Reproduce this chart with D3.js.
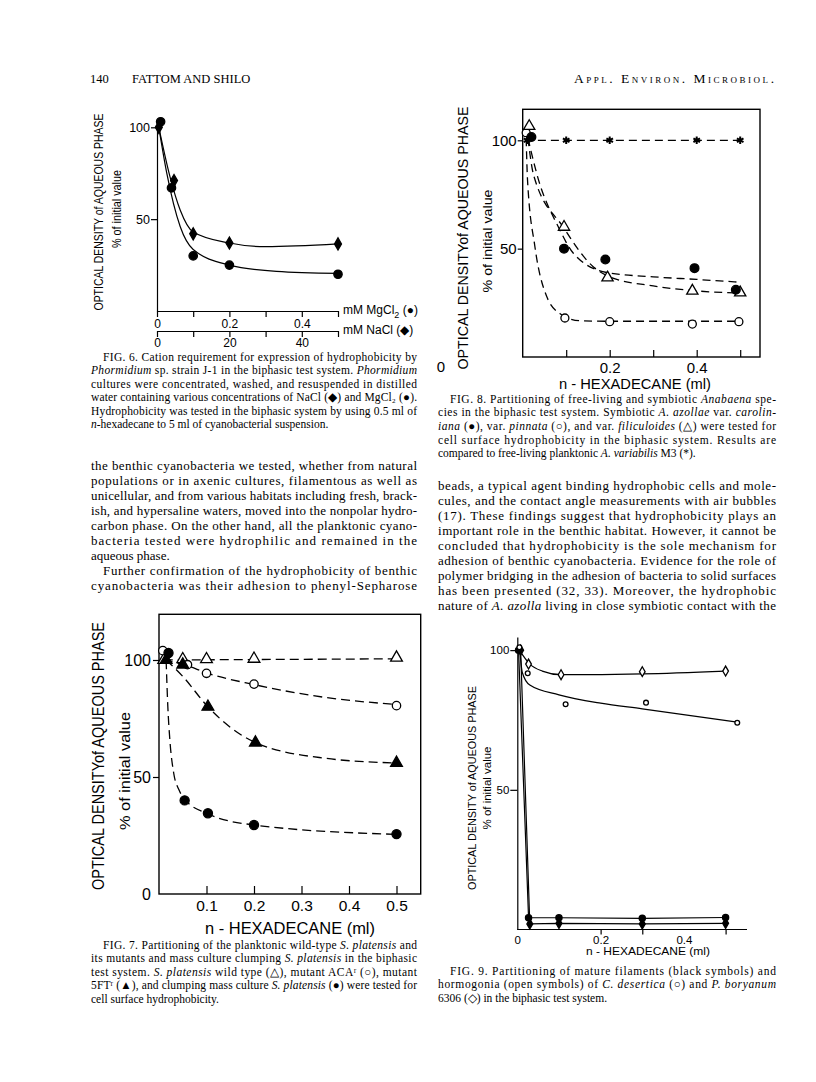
<!DOCTYPE html>
<html><head><meta charset="utf-8">
<script src="https://cdn.jsdelivr.net/npm/d3@7"></script>
<style>html,body{margin:0;padding:0;background:#fff}</style>
</head><body>
<svg id="page" width="816" height="1082"></svg>
<script>
// ================= DATA =================
// Fig. 6  (x of circles in mM MgCl2, x of diamonds in mM NaCl)
const fig6MgX = [0.01, 0.04, 0.1, 0.2, 0.5];
const fig6MgY = [103, 67, 30, 25, 20];
const fig6MgFitX = [0.005, 0.027, 0.064, 0.1, 0.2, 0.33, 0.5];
const fig6MgFitY = [100, 75, 46, 33.5, 25, 21.6, 20.5];
const fig6NaX = [0.5, 4.7, 10, 20, 50];
const fig6NaY = [100, 71, 42, 37, 36.5];
const fig6NaFitX = [0.5, 3.6, 6.4, 10, 20, 30, 50];
const fig6NaFitY = [100, 73, 55, 43, 37, 35, 36.5];
const fig6MgTicks = [0, 0.1, 0.2, 0.3, 0.4, 0.5];
const fig6MgLabels = [0, 0.2, 0.4];
const fig6NaTicks = [0, 10, 20, 30, 40, 50];
const fig6NaLabels = [0, 20, 40];
const fig6YTicks = [50, 100];

// Fig. 8
const fig8StarX = [0.01, 0.1, 0.2, 0.4, 0.5];
const fig8StarY = [100, 100, 100, 100, 100];
const fig8FilledX = [0.02, 0.095, 0.19, 0.395, 0.49];
const fig8FilledY = [101.5, 50, 45, 41, 31];
const fig8OpenX = [0.008, 0.097, 0.2, 0.39, 0.497];
const fig8OpenY = [103.5, 18, 16.3, 15.2, 16.3];
const fig8TriX = [0.015, 0.095, 0.195, 0.39, 0.5];
const fig8TriY = [106.5, 60, 36.6, 30.5, 29.7];
const fig8StarFitX = [0.005, 0.5];
const fig8StarFitY = [100, 100];
const fig8FilledFitX = [0.012, 0.036, 0.082, 0.116, 0.193, 0.3, 0.4, 0.5];
const fig8FilledFitY = [101, 82, 60, 48, 39, 37, 35.8, 34.5];
const fig8TriFitX = [0.012, 0.025, 0.093, 0.162, 0.2, 0.3, 0.4, 0.5];
const fig8TriFitY = [101, 84, 60, 41.7, 37, 32.8, 30.5, 29.5];
const fig8OpenFitX = [0.008, 0.011, 0.028, 0.055, 0.086, 0.13, 0.2, 0.5];
const fig8OpenFitY = [101, 82, 51, 28, 20, 16.8, 16.5, 16.5];
const fig8XTicks = [0.1, 0.2, 0.3, 0.4, 0.5];
const fig8XLabels = [0.2, 0.4];
const fig8YTicks = [50, 100];

// Fig. 7
const fig7WtX = [0.01, 0.05, 0.1, 0.2, 0.5];
const fig7WtY = [100, 100.3, 100.3, 100.5, 101];
const fig7AcaX = [0.008, 0.06, 0.1, 0.2, 0.5];
const fig7AcaY = [104, 98, 94.3, 89.7, 80.5];
const fig7FtX = [0.015, 0.05, 0.103, 0.203, 0.5];
const fig7FtY = [100, 98, 80, 64.7, 56];
const fig7ClumpX = [0.02, 0.054, 0.103, 0.2, 0.5];
const fig7ClumpY = [103, 40, 34.5, 29.5, 25.6];
const fig7WtFitX = [0.01, 0.5];
const fig7WtFitY = [100, 100.5];
const fig7AcaFitX = [0.01, 0.06, 0.1, 0.2, 0.35, 0.5];
const fig7AcaFitY = [100, 97.5, 94.5, 89.5, 84, 81];
const fig7FtFitX = [0.015, 0.05, 0.103, 0.2, 0.35, 0.5];
const fig7FtFitY = [100, 93, 80, 65, 58, 56];
const fig7ClumpFitX = [0.015, 0.0186, 0.0228, 0.031, 0.042, 0.054, 0.1, 0.2, 0.5];
const fig7ClumpFitY = [100, 80, 66, 51.6, 44.5, 40.5, 34.5, 29.5, 25.5];
const fig7XTicks = [0.1, 0.2, 0.3, 0.4, 0.5];
const fig7YTicks = [0, 50, 100];

// Fig. 9
const fig9FilCircX = [0.003, 0.027, 0.1, 0.3, 0.5];
const fig9FilCircY = [100, 4.2, 4.2, 4.0, 4.3];
const fig9FilDiaX = [0.008, 0.03, 0.1, 0.3, 0.5];
const fig9FilDiaY = [100, 2.0, 2.2, 2.0, 2.2];
const fig9HorDiaX = [0.027, 0.105, 0.3, 0.5];
const fig9HorDiaY = [95, 91.2, 92.3, 92.5];
const fig9HorCircX = [0.005, 0.025, 0.116, 0.309, 0.528];
const fig9HorCircY = [101, 91.7, 80.6, 81.2, 74];
const fig9HorDiaFitX = [0.005, 0.03, 0.06, 0.105, 0.3, 0.5];
const fig9HorDiaFitY = [100, 95, 92.5, 91.2, 91.5, 92.5];
const fig9HorCircFitX = [0.006, 0.012, 0.03, 0.1, 0.2, 0.3, 0.528];
const fig9HorCircFitY = [100, 92, 87.5, 84, 81, 79, 74.2];
const fig9XTicks = [0.2, 0.3, 0.5];
const fig9XLabels = [0, 0.2, 0.4];
const fig9YTicks = [50, 100];

// Text
const header = ["140", "FATTOM AND SHILO", "Appl. Environ. Microbiol."];
const cap6 = [
 "FIG. 6. Cation requirement for expression of hydrophobicity by",
 "_Phormidium_ sp. strain J-1 in the biphasic test system. _Phormidium_",
 "cultures were concentrated, washed, and resuspended in distilled",
 "water containing various concentrations of NaCl (◆) and MgCl₂ (●).",
 "Hydrophobicity was tested in the biphasic system by using 0.5 ml of",
 "_n_-hexadecane to 5 ml of cyanobacterial suspension."];
const paraLeft = [
 "the benthic cyanobacteria we tested, whether from natural",
 "populations or in axenic cultures, filamentous as well as",
 "unicellular, and from various habitats including fresh, brack-",
 "ish, and hypersaline waters, moved into the nonpolar hydro-",
 "carbon phase. On the other hand, all the planktonic cyano-",
 "bacteria tested were hydrophilic and remained in the",
 "aqueous phase.",
 "Further confirmation of the hydrophobicity of benthic",
 "cyanobacteria was their adhesion to phenyl-Sepharose"];
const cap8 = [
 "FIG. 8. Partitioning of free-living and symbiotic _Anabaena_ spe-",
 "cies in the biphasic test system. Symbiotic _A. azollae_ var. _carolin-_",
 "_iana_ (●), var. _pinnata_ (○), and var. _filiculoides_ (△) were tested for",
 "cell surface hydrophobicity in the biphasic system. Results are",
 "compared to free-living planktonic _A. variabilis_ M3 (*)."];
const paraRight = [
 "beads, a typical agent binding hydrophobic cells and mole-",
 "cules, and the contact angle measurements with air bubbles",
 "(17). These findings suggest that hydrophobicity plays an",
 "important role in the benthic habitat. However, it cannot be",
 "concluded that hydrophobicity is the sole mechanism for",
 "adhesion of benthic cyanobacteria. Evidence for the role of",
 "polymer bridging in the adhesion of bacteria to solid surfaces",
 "has been presented (32, 33). Moreover, the hydrophobic",
 "nature of _A. azolla_ living in close symbiotic contact with the"];
const cap7 = [
 "FIG. 7. Partitioning of the planktonic wild-type _S. platensis_ and",
 "its mutants and mass culture clumping _S. platensis_ in the biphasic",
 "test system. _S. platensis_ wild type (△), mutant ACAʳ (○), mutant",
 "5FTʳ (▲), and clumping mass culture _S. platensis_ (●) were tested for",
 "cell surface hydrophobicity."];
const cap9 = [
 "FIG. 9. Partitioning of mature filaments (black symbols) and",
 "hormogonia (open symbols) of _C. desertica_ (○) and _P. boryanum_",
 "6306 (◇) in the biphasic test system."];

// ================= DRAWING =================
const serif = "'Liberation Serif','Times New Roman',serif";
const sans = "'Liberation Sans',Arial,sans-serif";
const svg = d3.select('#page');
svg.append('rect').attr('width', 816).attr('height', 1082).attr('fill', '#fff');

function zip(xs, ys) { return xs.map((x, i) => [x, ys[i]]); }

function curve(g, xs, ys, sx, sy, dash, w) {
  g.append('path')
    .attr('d', d3.line().x(d => sx(d[0])).y(d => sy(d[1])).curve(d3.curveMonotoneX)(zip(xs, ys)))
    .attr('fill', 'none').attr('stroke', '#000').attr('stroke-width', w || 1.3)
    .attr('stroke-dasharray', dash ? dash : null);
}
function poly(g, xs, ys, sx, sy, w) {
  g.append('path')
    .attr('d', d3.line().x(d => sx(d[0])).y(d => sy(d[1]))(zip(xs, ys)))
    .attr('fill', 'none').attr('stroke', '#000').attr('stroke-width', w || 1.2);
}
const symTypes = {circle: d3.symbolCircle, triangle: d3.symbolTriangle, diamond: d3.symbolDiamond, star: d3.symbolAsterisk};
function marks(g, xs, ys, sx, sy, type, filled, size) {
  g.selectAll(null).data(zip(xs, ys)).enter().append('path')
    .attr('transform', d => `translate(${sx(d[0])},${sy(d[1])})`)
    .attr('d', d3.symbol().type(symTypes[type]).size(size))
    .attr('fill', type === 'star' ? 'none' : (filled ? '#000' : '#fff'))
    .attr('stroke', '#000').attr('stroke-width', type === 'star' ? 2 : 1.3);
}
function vlabel(text, cx, cy, size, len) {
  svg.append('text').attr('transform', `translate(${cx},${cy}) rotate(-90)`)
    .attr('text-anchor', 'middle').attr('dy', '0.35em')
    .attr('font-family', sans).attr('font-size', size)
    .attr('textLength', len).attr('lengthAdjust', 'spacingAndGlyphs').text(text);
}
function hlabel(text, cx, cy, size, len) {
  const t = svg.append('text').attr('x', cx).attr('y', cy)
    .attr('text-anchor', 'middle').attr('dy', '0.35em')
    .attr('font-family', sans).attr('font-size', size).text(text);
  if (len) t.attr('textLength', len).attr('lengthAdjust', 'spacingAndGlyphs');
  return t;
}
function styleAxis(g, size) {
  g.attr('font-family', sans).attr('font-size', size);
  g.selectAll('path,line').attr('stroke', '#000').attr('stroke-width', 1.2);
  g.selectAll('text').attr('fill', '#000');
}
const fmt = d => d === 0 ? '0' : d3.format('.1f')(d);

// ---------- Fig 6 ----------
{
  const g = svg.append('g');
  const x = d3.scaleLinear().domain([0, 0.5]).range([157, 338]);
  const xNa = d3.scaleLinear().domain([0, 50]).range([157, 338]);
  const y = d3.scaleLinear().domain([0, 100]).range([311, 127.3]);
  const ay = g.append('g').attr('transform', 'translate(157,0)')
    .call(d3.axisLeft(y).tickValues(fig6YTicks).tickSize(6).tickSizeOuter(0).tickPadding(1).tickFormat(d3.format('d')));
  styleAxis(ay, 12.5);
  const ax = g.append('g').attr('transform', 'translate(0,311)')
    .call(d3.axisBottom(x).tickValues(fig6MgTicks).tickSize(6).tickSizeOuter(0).tickPadding(2)
      .tickFormat(d => fig6MgLabels.some(v => Math.abs(v - d) < 1e-9) ? fmt(d) : ''));
  styleAxis(ax, 12);
  const ax2 = g.append('g').attr('transform', 'translate(0,331)')
    .call(d3.axisBottom(xNa).tickValues(fig6NaTicks).tickSize(6).tickSizeOuter(0).tickPadding(1)
      .tickFormat(d => fig6NaLabels.includes(d) ? String(d) : ''));
  styleAxis(ax2, 12);
  curve(g, fig6MgFitX, fig6MgFitY, x, y, null, 1.2);
  curve(g, fig6NaFitX, fig6NaFitY, xNa, y, null, 1.2);
  marks(g, fig6MgX, fig6MgY, x, y, 'circle', true, 55);
  marks(g, fig6NaX, fig6NaY, xNa, y, 'diamond', true, 42);
  const t1 = svg.append('text').attr('x', 343).attr('y', 310).attr('dy', '0.35em').attr('font-family', sans).attr('font-size', 12);
  t1.append('tspan').text('mM MgCl');
  t1.append('tspan').attr('font-size', 9).attr('dy', 4).text('2');
  t1.append('tspan').attr('dy', -4).text(' (●)');
  svg.append('text').attr('x', 343).attr('y', 330).attr('dy', '0.35em').attr('font-family', sans).attr('font-size', 12).text('mM NaCl (◆)');
  vlabel('OPTICAL DENSITY of AQUEOUS PHASE', 98, 212, 13.5, 197);
  vlabel('% of initial value', 117, 209, 12, 78);
}

// ---------- Fig 8 ----------
{
  const g = svg.append('g');
  const x = d3.scaleLinear().domain([0, 0.5]).range([522.7, 740.2]);
  const y = d3.scaleLinear().domain([0, 100]).range([357, 140.3]);
  g.append('rect').attr('x', 522.7).attr('y', 109.3).attr('width', 760 - 522.7).attr('height', 357 - 109.3)
    .attr('fill', 'none').attr('stroke', '#000').attr('stroke-width', 1.4);
  const ax = g.append('g').attr('transform', 'translate(0,357)')
    .call(d3.axisBottom(x).tickValues(fig8XTicks).tickSizeInner(-7).tickSizeOuter(0).tickPadding(5)
      .tickFormat(d => fig8XLabels.some(v => Math.abs(v - d) < 1e-9) ? fmt(d) : ''));
  ax.select('.domain').remove();
  styleAxis(ax, 15);
  const ay = g.append('g').attr('transform', 'translate(522.7,0)')
    .call(d3.axisLeft(y).tickValues(fig8YTicks).tickSize(5).tickSizeOuter(0).tickPadding(1).tickFormat(d3.format('d')));
  ay.select('.domain').remove();
  styleAxis(ay, 15);
  const dash = '8,5';
  curve(g, fig8StarFitX, fig8StarFitY, x, y, dash);
  curve(g, fig8FilledFitX, fig8FilledFitY, x, y, dash);
  curve(g, fig8TriFitX, fig8TriFitY, x, y, dash);
  curve(g, fig8OpenFitX, fig8OpenFitY, x, y, dash);
  marks(g, fig8StarX, fig8StarY, x, y, 'star', true, 40);
  marks(g, fig8OpenX, fig8OpenY, x, y, 'circle', false, 50);
  marks(g, fig8TriX, fig8TriY, x, y, 'triangle', false, 55);
  marks(g, fig8FilledX, fig8FilledY, x, y, 'circle', true, 60);
  hlabel('0', 441, 367, 15);
  hlabel('n - HEXADECANE  (ml)', 635, 384, 15, 152);
  vlabel('OPTICAL  DENSITYof AQUEOUS PHASE', 463, 238, 15, 263);
  vlabel('% of initial value', 487, 241, 13, 103);
}

// ---------- Fig 7 ----------
{
  const g = svg.append('g');
  const x = d3.scaleLinear().domain([0, 0.5]).range([159, 396.5]);
  const y = d3.scaleLinear().domain([0, 100]).range([894, 660]);
  g.append('rect').attr('x', 159).attr('y', 614.3).attr('width', 420.7 - 159).attr('height', 894 - 614.3)
    .attr('fill', 'none').attr('stroke', '#000').attr('stroke-width', 1.4);
  const ax = g.append('g').attr('transform', 'translate(0,894)')
    .call(d3.axisBottom(x).tickValues(fig7XTicks).tickSizeInner(-8).tickSizeOuter(0).tickPadding(6).tickFormat(fmt));
  ax.select('.domain').remove();
  styleAxis(ax, 15.5);
  const ay = g.append('g').attr('transform', 'translate(159,0)')
    .call(d3.axisLeft(y).tickValues(fig7YTicks).tickSize(6).tickSizeOuter(0).tickPadding(2).tickFormat(d3.format('d')));
  ay.select('.domain').remove();
  ay.selectAll('.tick').filter(d => d === 0).select('line').remove();
  styleAxis(ay, 16);
  const dash = '9,5';
  curve(g, fig7WtFitX, fig7WtFitY, x, y, dash);
  curve(g, fig7AcaFitX, fig7AcaFitY, x, y, dash);
  curve(g, fig7FtFitX, fig7FtFitY, x, y, dash);
  curve(g, fig7ClumpFitX, fig7ClumpFitY, x, y, dash);
  marks(g, fig7WtX, fig7WtY, x, y, 'triangle', false, 60);
  marks(g, fig7AcaX, fig7AcaY, x, y, 'circle', false, 55);
  marks(g, fig7FtX, fig7FtY, x, y, 'triangle', true, 60);
  marks(g, fig7ClumpX, fig7ClumpY, x, y, 'circle', true, 65);
  hlabel('n - HEXADECANE  (ml)', 290, 928, 16, 170);
  vlabel('OPTICAL  DENSITYof AQUEOUS PHASE', 98, 756, 16, 268);
  vlabel('% of initial value', 125, 771, 14, 118);
}

// ---------- Fig 9 ----------
{
  const g = svg.append('g');
  const x = d3.scaleLinear().domain([0, 0.5]).range([517.3, 725.6]);
  const y = d3.scaleLinear().domain([0, 104.7]).range([929.5, 637]);
  const ay = g.append('g').attr('transform', 'translate(517.3,0)')
    .call(d3.axisLeft(y).tickValues(fig9YTicks).tickSize(7).tickSizeOuter(0).tickPadding(1).tickFormat(d3.format('d')));
  styleAxis(ay, 11.5);
  const ax = g.append('g').attr('transform', 'translate(0,929.5)')
    .call(d3.axisBottom(x).tickValues(fig9XTicks).tickSize(5).tickSizeOuter(0).tickFormat(''));
  ax.select('.domain').attr('d', `M517.3,0H747`);
  styleAxis(ax, 11.5);
  const axl = g.append('g').attr('transform', 'translate(0,929.5)')
    .call(d3.axisBottom(x).tickValues(fig9XLabels).tickSize(0).tickPadding(6).tickFormat(fmt));
  axl.select('.domain').remove();
  styleAxis(axl, 11.5);
  poly(g, fig9FilCircX, fig9FilCircY, x, y);
  poly(g, fig9FilDiaX, fig9FilDiaY, x, y);
  curve(g, fig9HorDiaFitX, fig9HorDiaFitY, x, y, null, 1.2);
  curve(g, fig9HorCircFitX, fig9HorCircFitY, x, y, null, 1.2);
  marks(g, fig9FilCircX, fig9FilCircY, x, y, 'circle', true, 30);
  marks(g, fig9FilDiaX, fig9FilDiaY, x, y, 'diamond', true, 30);
  marks(g, fig9HorDiaX, fig9HorDiaY, x, y, 'diamond', false, 28);
  marks(g, fig9HorCircX, fig9HorCircY, x, y, 'circle', false, 18);
  hlabel('n - HEXADECANE  (ml)', 648, 951, 11.5, 124);
  vlabel('OPTICAL DENSITY of AQUEOUS PHASE', 472, 788, 11.5, 204);
  vlabel('% of initial value', 487, 788, 10.5, 83);
}

// ---------- Text ----------
function textBlock(lines, x, yc, lh, width, size, indentLines, lastLines) {
  lines.forEach((ln, i) => {
    const ind = indentLines.includes(i) ? 12 : 0;
    const t = svg.append('text').attr('x', x + ind).attr('y', yc + i * lh + size * 0.33)
      .attr('font-family', serif).attr('font-size', size).attr('fill', '#000');
    ln.split('_').forEach((p, k) => { if (p) t.append('tspan').attr('font-style', k % 2 ? 'italic' : 'normal').text(p); });
    if (!lastLines.includes(i)) t.attr('textLength', width - ind).attr('lengthAdjust', 'spacing');
  });
}
svg.append('text').attr('x', 90).attr('y', 83).attr('font-family', serif).attr('font-size', 12.5).text(header[0]);
svg.append('text').attr('x', 132).attr('y', 83).attr('font-family', serif).attr('font-size', 12.5).text(header[1]);
svg.append('text').attr('x', 774).attr('y', 83).attr('text-anchor', 'end').attr('font-family', serif)
  .attr('font-size', 13.5).style('font-variant', 'small-caps')
  .attr('textLength', 200).attr('lengthAdjust', 'spacing').text(header[2]);

const L0 = 91, LW = 326, R0 = 438, RW = 338;
textBlock(cap6, L0, 357, 13.5, LW, 11.5, [0], [5]);
textBlock(paraLeft, L0, 466, 15, LW, 13, [7], [6]);
textBlock(cap8, R0, 399, 13.6, RW, 11.5, [0], [4]);
textBlock(paraRight, R0, 486, 15, RW, 13, [], []);
textBlock(cap7, L0, 945, 13.5, LW, 11.5, [0], [4]);
textBlock(cap9, R0, 971, 13.5, RW, 11.5, [0], [2]);
</script>
</body></html>
